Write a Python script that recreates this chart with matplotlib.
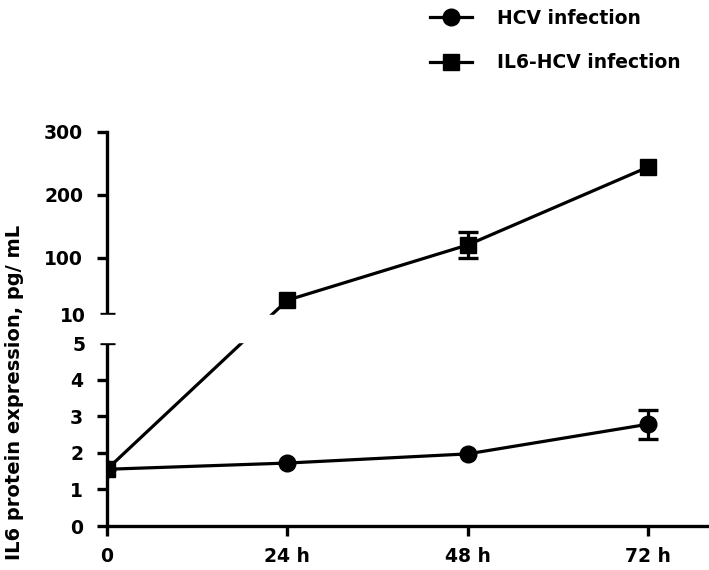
import numpy as np
import matplotlib
matplotlib.use("Agg")
import matplotlib.pyplot as plt
from matplotlib.ticker import FixedLocator, FixedFormatter

plt.rcParams['font.family'] = ['DejaVu Sans']
plt.rcParams['font.weight'] = 'bold'
plt.rcParams['axes.labelweight'] = 'bold'

# data
times = [0, 24, 48, 72]
time_labels = ['0', '24 h', '48 h', '72 h']
hcv = [1.55, 1.72, 1.97, 2.78]
hcv_err = [0, 0, 0, 0.4]
il6_hcv = [1.55, 32, 120, 244]
il6_hcv_err = [0, 0, 20, 0]

low_ticks = [0, 1, 2, 3, 4]
high_ticks = [100, 200, 300]
break_ticks = [5, 10]

# broken y axis: 0-5 linear, short gap for 5-10, then 10-300 compressed
gap = 0.792
s_hi = 0.01715


def fwd(y):
    y = np.asarray(y, dtype=float)
    return np.where(y <= 5, y,
                    np.where(y <= 10, 5 + (y - 5) * gap / 5,
                             5 + gap + (y - 10) * s_hi))


def inv(t):
    t = np.asarray(t, dtype=float)
    return np.where(t <= 5, t,
                    np.where(t <= 5 + gap, 5 + (t - 5) * 5 / gap,
                             10 + (t - 5 - gap) / s_hi))


fs = 13.5
fig = plt.figure(figsize=(7.09, 5.70), dpi=100)
ax = fig.add_axes([107 / 709, 1 - 526 / 570, 601 / 709, 394 / 570])
ax.set_yscale('function', functions=(fwd, inv))

lw = 2.3
l1, = ax.plot(times, hcv, color='black', lw=lw, marker='o', ms=12,
              zorder=2, label='HCV infection')
l2, = ax.plot(times, il6_hcv, color='black', lw=lw, marker='s', ms=12,
              zorder=2.1, label='IL6-HCV infection')

for vals, errs in [(hcv, hcv_err), (il6_hcv, il6_hcv_err)]:
    t = np.array(times)
    v = np.array(vals)
    e = np.array(errs)
    m = e > 0
    ax.errorbar(t[m], v[m], yerr=e[m], fmt='none', ecolor='black',
                elinewidth=lw, capsize=7.2, capthick=2.4, zorder=2)

# blank out the break region
ax.axhspan(5.25, 9.75, xmin=-0.02, xmax=1.0, color='white', zorder=3,
           clip_on=False)

ax.set_xlim(0, 80)
ax.set_ylim(0, 300)

ax.xaxis.set_major_locator(FixedLocator(times))
ax.xaxis.set_major_formatter(FixedFormatter(time_labels))
ax.yaxis.set_major_locator(FixedLocator(low_ticks + high_ticks))
ax.yaxis.set_major_formatter(FixedFormatter([str(v) for v in low_ticks + high_ticks]))
ax.yaxis.set_minor_locator(FixedLocator(break_ticks))
ax.yaxis.set_minor_formatter(FixedFormatter([str(v) for v in break_ticks]))

ax.spines['top'].set_visible(False)
ax.spines['right'].set_visible(False)
for sp in ['left', 'bottom']:
    ax.spines[sp].set_linewidth(2.4)

ax.tick_params(axis='y', which='major', direction='out', length=7.2,
               width=2.4, labelsize=fs, pad=10)
ax.tick_params(axis='y', which='minor', direction='inout', length=10.8,
               width=2.4, labelsize=fs, pad=10)
ax.tick_params(axis='x', which='major', direction='out', length=7.2,
               width=2.4, labelsize=fs, pad=8)

ax.set_ylabel('IL6 protein expression, pg/ mL', fontsize=14)
ax.yaxis.set_label_coords(-0.138, 0.34)

fig.legend(handles=[l1, l2], loc='center left',
           bbox_to_anchor=(430 / 709, 1 - 40.5 / 570),
           frameon=False, fontsize=fs, handlelength=2.25,
           handletextpad=1.3, labelspacing=1.35, borderpad=0,
           borderaxespad=0, numpoints=1)

fig.savefig('out.png', dpi=100)
